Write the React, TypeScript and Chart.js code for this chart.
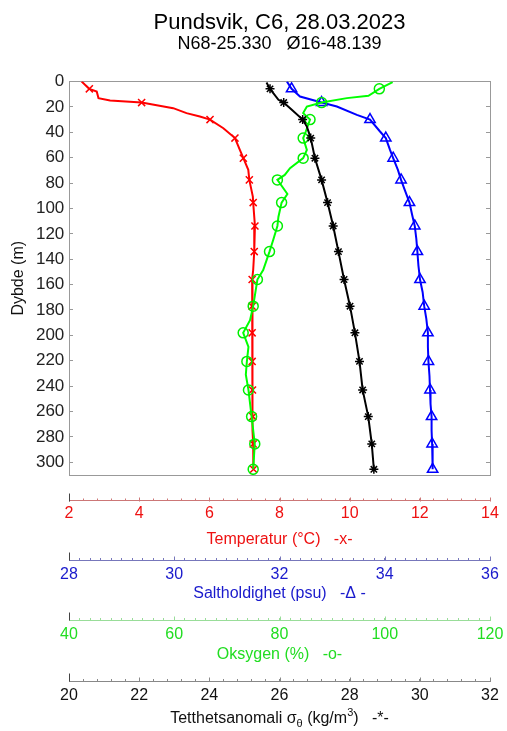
import React, { useEffect, useRef } from 'react';
import { Chart, registerables } from 'chart.js';

Chart.register(...registerables);

const FONT = '"Liberation Sans", Arial, Helvetica, sans-serif';

const titleText = 'Pundsvik, C6, 28.03.2023';
const subtitleText = 'N68-25.330   Ø16-48.139';

// depths where the markers sit
const markerDepths = [5.8, 16.6, 30, 44.6, 60.4, 77.5, 95.4, 113.8, 134, 156, 177, 198, 220.5, 243, 264, 285.5, 305.5];

// Temperature (°C)
const tempDepth = [0, 5.8, 7.9, 13.1, 15, 16.6, 21, 24.9, 27.6, 30, 36.8, 44.6, 53.9, 60.4, 69.6, 77.5, 90.7, 95.4, 113.8, 134, 148.5, 156, 166, 177, 188, 198, 210, 220.5, 232, 243, 254, 264, 275, 285.5, 296, 305.5];
const tempValues = [2.36, 2.58, 2.79, 2.84, 3.17, 4.07, 4.97, 5.35, 5.73, 6.02, 6.4, 6.73, 6.87, 6.97, 7.11, 7.14, 7.24, 7.25, 7.3, 7.28, 7.25, 7.22, 7.23, 7.22, 7.23, 7.22, 7.23, 7.22, 7.23, 7.23, 7.24, 7.24, 7.24, 7.25, 7.25, 7.26];

// Salinity (psu)
const salDepth = [0, 5.8, 11.8, 16.6, 19.7, 26.3, 30, 39.4, 44.6, 53.9, 60.4, 69.6, 77.5, 85.4, 95.4, 105, 113.8, 124, 134, 145, 156, 166, 177, 187, 198, 209, 220.5, 232, 243, 254, 264, 275, 285.5, 296, 305.5];
const salValues = [32.14, 32.23, 32.39, 32.8, 33.09, 33.47, 33.72, 33.91, 34.02, 34.1, 34.16, 34.25, 34.31, 34.38, 34.47, 34.52, 34.57, 34.6, 34.62, 34.64, 34.67, 34.72, 34.75, 34.79, 34.82, 34.82, 34.83, 34.85, 34.86, 34.87, 34.89, 34.89, 34.9, 34.91, 34.91];

// Oxygen (%)
const oxyDepth = [0.5, 5.8, 11.3, 13.1, 16.6, 19.7, 24.9, 30, 39.4, 44.6, 53.9, 60.4, 68.3, 73.6, 77.5, 88.6, 95.4, 106.5, 113.8, 124.8, 134, 148.5, 156, 177, 188, 198, 209, 220.5, 231, 243, 264, 285.5, 305.5];
const oxyValues = [101.5, 98.97, 96.9, 92.8, 88.0, 85.2, 84.5, 85.8, 85.0, 84.5, 85.2, 84.5, 82.0, 81.0, 79.6, 81.5, 80.4, 79.8, 79.6, 78.8, 78.1, 76.9, 75.8, 75.0, 74.4, 73.1, 74.1, 73.8, 73.6, 74.1, 74.7, 75.3, 75.0];

// Density anomaly (kg/m3)
const densDepth = [0.8, 5.8, 14.4, 16.6, 22.3, 30, 35.5, 44.6, 60.4, 77.5, 95.4, 113.8, 134, 156, 177, 198, 220.5, 243, 264, 285.5, 305.5];
const densValues = [25.63, 25.73, 25.97, 26.12, 26.35, 26.66, 26.78, 26.89, 27.01, 27.2, 27.37, 27.53, 27.68, 27.84, 28.01, 28.15, 28.28, 28.37, 28.53, 28.63, 28.69];

// tick labels of the four lower axes
const tempTicks = [2, 4, 6, 8, 10, 12, 14];
const salTicks = [28, 30, 32, 34, 36];
const oxyTicks = [40, 60, 80, 100, 120];
const densTicks = [20, 22, 24, 26, 28, 30, 32];

const T_TEXT = '#ee1111', T_AXIS = '#cc7777';
const S_TEXT = '#1a1acc', S_AXIS = '#7777bb';
const O_TEXT = '#22dd22', O_AXIS = '#99dd99';
const D_TEXT = '#111111', D_AXIS = '#888888';
const FRAME = '#999999';

function pts(depths: number[], vals: number[]) {
  return depths.map((d, i) => ({ x: vals[i], y: d }));
}
function radii(depths: number[], r: number) {
  return depths.map((d) => (markerDepths.includes(d) ? r : 0));
}

function lowerAxis(
  min: number, max: number, step: number, majors: number[], weight: number, height: number,
  labelColor: string, axisColor: string, title: string, labelLine: number, titlePadBottom: number, showTitle = true
) {
  return {
    type: 'linear', position: 'bottom', weight, min, max,
    grid: { display: true, drawOnChartArea: false, drawTicks: true, tickLength: -2, tickColor: axisColor, lineWidth: 1 },
    border: { display: true, color: axisColor, width: 1 },
    ticks: {
      stepSize: step, autoSkip: false, maxRotation: 0, minRotation: 0, padding: 0,
      color: labelColor, font: { size: 16, lineHeight: `${labelLine}px` },
      callback: (v: number) => (majors.some((m) => Math.abs(m - v) < 1e-6) ? String(Math.round(v)) : ''),
    },
    title: { display: showTitle, text: title, color: labelColor, font: { size: 16 }, padding: { top: 0, bottom: titlePadBottom } },
    afterFit: (s: any) => { s.height = height; },
  };
}

const axisDecor = {
  id: 'axisDecor',
  afterDraw(chart: any) {
    const ctx = chart.ctx as CanvasRenderingContext2D;
    const defs = [
      { id: 'xT', majors: tempTicks, color: T_AXIS },
      { id: 'xS', majors: salTicks, color: S_AXIS },
      { id: 'xO', majors: oxyTicks, color: O_AXIS },
      { id: 'xD', majors: densTicks, color: D_AXIS },
    ];
    ctx.save();
    ctx.lineWidth = 1;
    for (const d of defs) {
      const s = chart.scales[d.id];
      const y = Math.round(s.top) + 0.5;
      ctx.strokeStyle = d.color;
      for (const v of d.majors) {
        const x = Math.round(s.getPixelForValue(v)) + 0.5;
        ctx.beginPath(); ctx.moveTo(x, y); ctx.lineTo(x, y - 4); ctx.stroke();
      }
      ctx.strokeStyle = '#444';
      const x0 = Math.round(s.left) + 0.5;
      ctx.beginPath(); ctx.moveTo(x0, y); ctx.lineTo(x0, y - 8); ctx.stroke();
    }
    // density axis title with sub/superscript
    const parts = [
      { t: 'Tetthetsanomali σ', size: 16, dy: 0 },
      { t: 'θ', size: 11, dy: 5 },
      { t: ' (kg/m', size: 16, dy: 0 },
      { t: '3', size: 11, dy: -6 },
      { t: ')   -*-', size: 16, dy: 0 },
    ];
    let total = 0;
    for (const p of parts) { ctx.font = `${p.size}px ${FONT}`; total += ctx.measureText(p.t).width; }
    const area = chart.chartArea;
    let x = (area.left + area.right) / 2 - total / 2;
    const yc = 719;
    ctx.fillStyle = D_TEXT;
    ctx.textBaseline = 'middle';
    ctx.textAlign = 'left';
    for (const p of parts) {
      ctx.font = `${p.size}px ${FONT}`;
      ctx.fillText(p.t, x, yc + p.dy);
      x += ctx.measureText(p.t).width;
    }
    ctx.restore();
  },
};

export default function App() {
  const ref = useRef<HTMLCanvasElement>(null);
  useEffect(() => {
    Chart.defaults.font.family = FONT;
    const lineBase = { showLine: true, borderWidth: 2, tension: 0, pointBorderWidth: 1.5, pointBackgroundColor: 'rgba(0,0,0,0)', yAxisID: 'y' };
    const chart = new Chart(ref.current as HTMLCanvasElement, {
      type: 'scatter',
      data: {
        datasets: [
          { ...lineBase, label: 'Tetthet', data: pts(densDepth, densValues), xAxisID: 'xD', borderColor: '#000000', pointBorderColor: '#000000', pointStyle: 'star', pointRadius: radii(densDepth, 4.5) },
          { ...lineBase, label: 'Oksygen', data: pts(oxyDepth, oxyValues), xAxisID: 'xO', borderColor: '#00ff00', pointBorderColor: '#00ee00', pointStyle: 'circle', pointRadius: radii(oxyDepth, 5) },
          { ...lineBase, label: 'Salt', data: pts(salDepth, salValues), xAxisID: 'xS', borderColor: '#0000ff', pointBorderColor: '#0000ff', pointStyle: 'triangle', pointRadius: radii(salDepth, 6) },
          { ...lineBase, label: 'Temp', data: pts(tempDepth, tempValues), xAxisID: 'xT', borderColor: '#ff0000', pointBorderColor: '#ff0000', pointStyle: 'crossRot', pointRadius: radii(tempDepth, 5) },
        ] as any,
      },
      options: {
        animation: false,
        responsive: false,
        devicePixelRatio: 1,
        events: [],
        layout: { padding: 0 },
        plugins: {
          legend: { display: false },
          tooltip: { enabled: false },
          title: { display: true, text: titleText, color: '#000', fullSize: false, font: { size: 22, weight: 'normal', lineHeight: 1 }, padding: { top: 12, bottom: 0 } },
          subtitle: { display: true, text: subtitleText, color: '#000', fullSize: false, font: { size: 18, weight: 'normal', lineHeight: 1 }, padding: { top: 1.5, bottom: 28 } },
        },
        scales: {
          y: {
            type: 'linear', position: 'left', reverse: true, min: 0, max: 310,
            ticks: { stepSize: 20, includeBounds: false, autoSkip: false, padding: 8.7, color: '#222', font: { size: 17 } },
            grid: { display: true, drawOnChartArea: false, drawTicks: true, tickLength: -4, tickColor: FRAME },
            border: { display: true, color: FRAME },
            title: { display: true, text: 'Dybde (m)', color: '#111', font: { size: 16 }, padding: { top: 8.9, bottom: 0 } },
            afterFit: (s: any) => { s.width = 69; },
          },
          yR: {
            type: 'linear', position: 'right', reverse: true, min: 0, max: 310,
            ticks: { display: false, stepSize: 20, includeBounds: false },
            grid: { display: true, drawOnChartArea: false, drawTicks: true, tickLength: -4, tickColor: FRAME },
            border: { display: true, color: FRAME },
            afterFit: (s: any) => { s.width = 17; },
          },
          xTop: {
            type: 'linear', position: 'top', min: 0, max: 1,
            ticks: { display: false },
            grid: { display: true, drawOnChartArea: false, drawTicks: false },
            border: { display: true, color: FRAME },
            afterFit: (s: any) => { s.height = 0; },
          },
          xGap: {
            type: 'linear', position: 'bottom', weight: 0, min: 0, max: 1,
            ticks: { display: false },
            grid: { display: true, drawOnChartArea: false, drawTicks: false },
            border: { display: true, color: FRAME },
            afterFit: (s: any) => { s.height = 25.5; },
          },
          xT: lowerAxis(2, 14, 0.4, tempTicks, 1, 59.5, T_TEXT, T_AXIS, 'Temperatur (°C)   -x-', 31, 10.4),
          xS: lowerAxis(28, 36, 0.2, salTicks, 2, 60, S_TEXT, S_AXIS, 'Saltholdighet (psu)   -Δ -', 33, 16.4),
          xO: lowerAxis(40, 120, 2, oxyTicks, 3, 61, O_TEXT, O_AXIS, 'Oksygen (%)   -o-', 34, 16.9),
          xD: lowerAxis(20, 32, 0.4, densTicks, 4, 50, D_TEXT, D_AXIS, '', 34, 0, false),
        } as any,
      },
      plugins: [axisDecor],
    });
    return () => chart.destroy();
  }, []);
  return (
    <div style={{ position: 'fixed', left: 0, top: 0, width: 507, height: 731, background: '#fff' }}>
      <canvas ref={ref} width={507} height={731} style={{ width: 507, height: 731, display: 'block' }} />
    </div>
  );
}
